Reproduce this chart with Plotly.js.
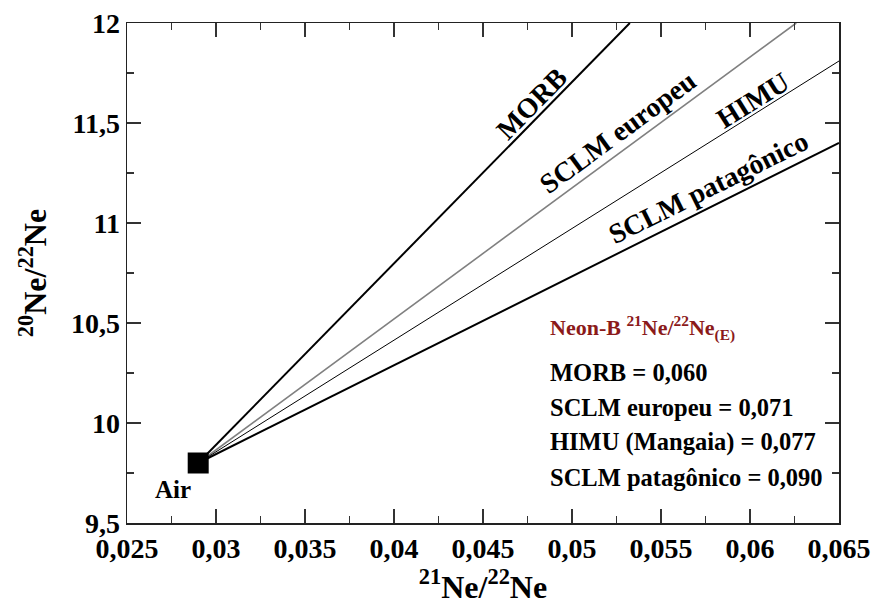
<!DOCTYPE html>
<html>
<head>
<meta charset="utf-8">
<script src="https://cdn.plot.ly/plotly-3.0.1.min.js"></script>
<style>html,body{margin:0;padding:0;background:#fff;}#chart{width:876px;height:607px;}</style>
</head>
<body>
<div id="chart"></div>
<script>
// Data
var airPoint = {x: [0.029], y: [9.8]};
var lineNames = ["MORB", "SCLM europeu", "HIMU", "SCLM patagônico"];
var morbX = [0.029, 0.05325];   var morbY = [9.8, 12.0];
var euroX = [0.029, 0.0626];    var euroY = [9.8, 12.0];
var himuX = [0.029, 0.065];     var himuY = [9.8, 11.81];
var pataX = [0.029, 0.065];     var pataY = [9.8, 11.40];
var xTickVals = [0.025, 0.03, 0.035, 0.04, 0.045, 0.05, 0.055, 0.06, 0.065];
var xTickText = ["0,025", "0,03", "0,035", "0,04", "0,045", "0,05", "0,055", "0,06", "0,065"];
var yTickVals = [9.5, 10, 10.5, 11, 11.5, 12];
var yTickText = ["9,5", "10", "10,5", "11", "11,5", "12"];
var legendTitle = "Neon-B <sup>21</sup>Ne/<sup>22</sup>Ne<sub>(E)</sub>";
var legendLines = ["MORB = 0,060", "SCLM europeu = 0,071", "HIMU (Mangaia) = 0,077", "SCLM patagônico = 0,090"];

var FONT = "Liberation Serif, Times New Roman, serif";

var traces = [
  {x: morbX, y: morbY, mode: "lines", line: {color: "#000", width: 2}, name: lineNames[0]},
  {x: euroX, y: euroY, mode: "lines", line: {color: "#808080", width: 1.6}, name: lineNames[1]},
  {x: himuX, y: himuY, mode: "lines", line: {color: "#000", width: 1}, name: lineNames[2]},
  {x: pataX, y: pataY, mode: "lines", line: {color: "#000", width: 2}, name: lineNames[3]},
  {x: airPoint.x, y: airPoint.y, mode: "markers", marker: {symbol: "square", size: 21, color: "#000"}, name: "Air"}
];

var lblFont = {family: FONT, size: 28, color: "#000", weight: "bold"};
var annotations = [
  {x: 0.04773, y: 11.598, text: lineNames[0], textangle: -45.5, showarrow: false, font: lblFont},
  {x: 0.05255, y: 11.453, text: lineNames[1], textangle: -36.3, showarrow: false, font: lblFont},
  {x: 0.06013, y: 11.614, text: lineNames[2], textangle: -32.0, showarrow: false, font: lblFont},
  {x: 0.05766, y: 11.178, text: lineNames[3], textangle: -26.4, showarrow: false, font: lblFont},
  {xref: "paper", yref: "paper", x: 0.0643, y: 0.0675, xanchor: "center", yanchor: "middle",
   text: "Air", showarrow: false,
   font: {family: FONT, size: 25, color: "#000", weight: "bold"}},
  {xref: "paper", yref: "paper", x: 0.5912, y: (522.7 - 328) / 499.4, xanchor: "left", yanchor: "middle",
   text: legendTitle, showarrow: false, font: {family: FONT, size: 22, color: "#8b1a1a", weight: "bold"}}
];
var legendY = [372, 407, 442, 477];
legendLines.forEach(function (t, i) {
  annotations.push({xref: "paper", yref: "paper", x: 0.5912, y: (522.7 - legendY[i]) / 499.4,
    xanchor: "left", yanchor: "middle", text: t, showarrow: false,
    font: {family: FONT, size: 24.5, color: "#000", weight: "bold"}});
});

var axisCommon = {
  showgrid: false, zeroline: false, showline: true, linecolor: "#222", linewidth: 1.5,
  mirror: "ticks", ticks: "inside", ticklen: 14, tickwidth: 1.2, tickcolor: "#333",
  tickfont: {family: FONT, size: 28, color: "#000", weight: "bold"}
};

var layout = {
  width: 876, height: 607,
  margin: {l: 126.7, r: 36.7, t: 23.3, b: 84.3},
  paper_bgcolor: "#fff", plot_bgcolor: "#fff",
  showlegend: false,
  separators: ",.",
  xaxis: Object.assign({}, axisCommon, {
    range: [0.025, 0.065], tickmode: "array", tickvals: xTickVals, ticktext: xTickText,
    minor: {ticks: "inside", ticklen: 7, tickwidth: 1.2, tickcolor: "#333", dtick: 0.0025, tick0: 0.025},
    title: {text: "<sup>21</sup>Ne/<sup>22</sup>Ne", font: {family: FONT, size: 32, color: "#000", weight: "bold"}, standoff: 12}
  }),
  yaxis: Object.assign({}, axisCommon, {
    range: [9.5, 12], tickmode: "array", tickvals: yTickVals, ticktext: yTickText,
    minor: {ticks: "inside", ticklen: 7, tickwidth: 1.2, tickcolor: "#333", dtick: 0.25, tick0: 9.5},
    title: {text: "<sup>20</sup>Ne/<sup>22</sup>Ne", font: {family: FONT, size: 32, color: "#000", weight: "bold"}, standoff: 14}
  }),
  annotations: annotations
};

Plotly.newPlot("chart", traces, layout, {displayModeBar: false, staticPlot: true});
</script>
</body>
</html>
